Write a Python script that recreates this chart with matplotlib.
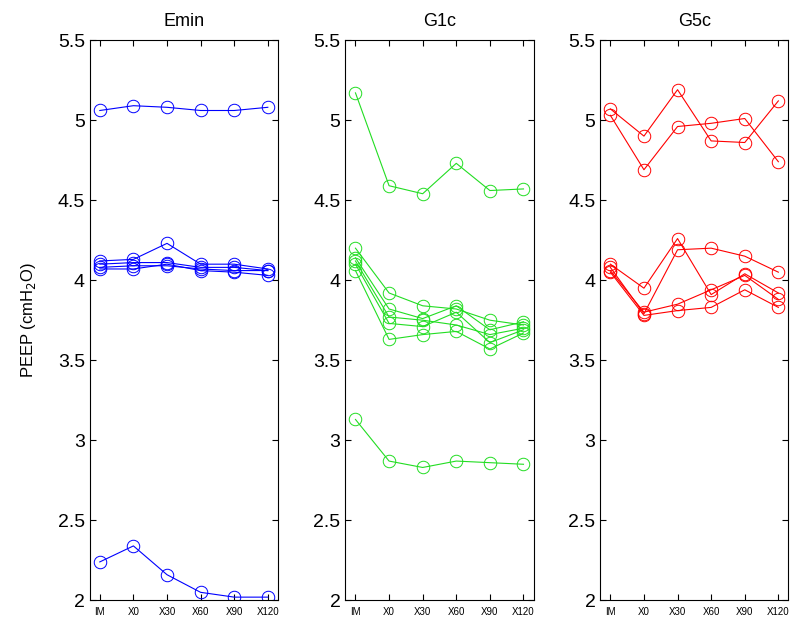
import numpy as np
import matplotlib.pyplot as plt
from matplotlib.ticker import FuncFormatter

plt.rcParams['font.family'] = ['Liberation Sans', 'DejaVu Sans']

# time points
timepoints = ['IM', 'X0', 'X30', 'X60', 'X90', 'X120']

# PEEP (cmH2O) per subject, one list per line
emin_series = [
    [5.06, 5.09, 5.08, 5.06, 5.06, 5.08],
    [4.12, 4.13, 4.23, 4.10, 4.10, 4.07],
    [4.10, 4.11, 4.11, 4.08, 4.08, 4.06],
    [4.08, 4.09, 4.09, 4.07, 4.06, 4.06],
    [4.07, 4.07, 4.10, 4.06, 4.05, 4.03],
    [2.24, 2.34, 2.16, 2.05, 2.02, 2.02],
]

g1c_series = [
    [5.17, 4.59, 4.54, 4.73, 4.56, 4.57],
    [4.20, 3.92, 3.84, 3.82, 3.75, 3.72],
    [4.14, 3.82, 3.76, 3.84, 3.69, 3.74],
    [4.12, 3.77, 3.75, 3.72, 3.66, 3.70],
    [4.10, 3.73, 3.71, 3.80, 3.61, 3.69],
    [4.06, 3.63, 3.66, 3.68, 3.57, 3.67],
    [3.13, 2.87, 2.83, 2.87, 2.86, 2.85],
]

g5c_series = [
    [5.07, 4.90, 5.19, 4.87, 4.86, 5.12],
    [5.03, 4.69, 4.96, 4.98, 5.01, 4.74],
    [4.10, 3.95, 4.26, 3.91, 4.04, 3.92],
    [4.08, 3.79, 4.19, 4.20, 4.15, 4.05],
    [4.06, 3.80, 3.85, 3.94, 4.03, 3.88],
    [4.05, 3.78, 3.81, 3.83, 3.94, 3.83],
]

groups = ['Emin', 'G1c', 'G5c']
group_data = [emin_series, g1c_series, g5c_series]
group_colors = ['#0000ff', '#22dd22', '#ff0000']

fig = plt.figure(figsize=(7.94, 6.26), dpi=100)
lefts = [0.113, 0.435, 0.756]
x = np.arange(1, len(timepoints) + 1)

for i, (name, data, color) in enumerate(zip(groups, group_data, group_colors)):
    ax = fig.add_axes([lefts[i], 0.041, 0.237, 0.895])
    for vals in data:
        ax.plot(x, vals, '-o', color=color, linewidth=0.8, markersize=9,
                markerfacecolor='none', markeredgewidth=0.7)
    ax.set_xlim(0.7, 6.3)
    ax.set_ylim(2, 5.5)
    ax.set_yticks(np.arange(2, 5.51, 0.5))
    ax.yaxis.set_major_formatter(FuncFormatter(lambda v, p: f'{v:g}'))
    ax.set_xticks(x)
    ax.set_xticklabels(timepoints, fontsize=7)
    ax.tick_params(axis='y', labelsize=14)
    ax.tick_params(direction='in', top=True, right=True, length=4, width=0.8)
    ax.tick_params(axis='x', pad=5)
    for s in ax.spines.values():
        s.set_linewidth(0.8)
    ax.set_title(name, fontsize=13, pad=10)
    if i == 0:
        ax.set_ylabel('PEEP (cmH$_2$O)', fontsize=12, labelpad=14)

plt.savefig('out.png', dpi=100)
